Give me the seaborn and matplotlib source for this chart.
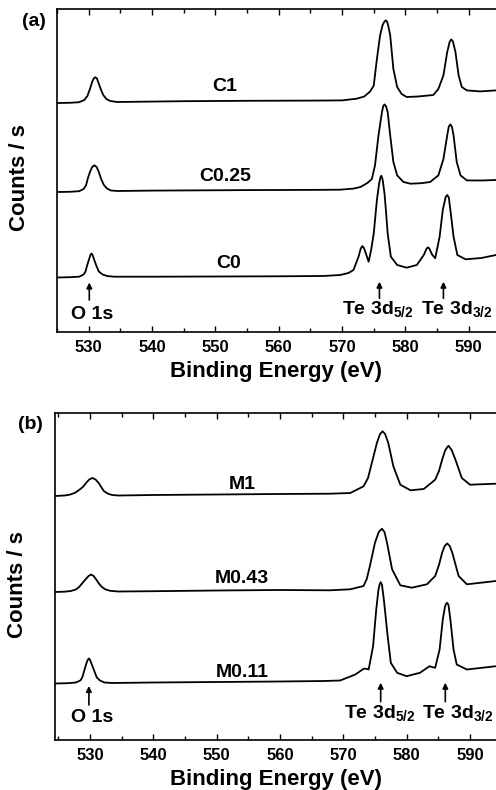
import numpy as np
import pandas as pd
import matplotlib
matplotlib.use("Agg")
import matplotlib.pyplot as plt
from matplotlib.ticker import MultipleLocator
import seaborn as sns

# ----------- spectra (intensity above each trace's own baseline, a.u.) -----------
c1_energy = [525, 527, 528.5, 529.3, 529.8, 530.2, 530.6, 530.85, 531.05, 531.3, 531.5, 531.9, 532.3, 532.8,
             533.4, 534.5, 537, 545, 555, 565, 570, 572.3, 573.5, 574.4, 575.0, 575.5, 576.0, 576.4, 576.7,
             576.9, 577.1, 577.3, 577.6, 578.1, 578.7, 579.4, 580.2, 582, 584.4, 585.2, 586.0, 586.6, 587.0,
             587.25, 587.5, 587.9, 588.4, 588.9, 589.7, 591.8, 594.3]
c1_counts = [0, 0.2, 0.8, 3, 7, 14, 22, 25, 25.7, 24.5, 21, 14, 8, 4,
             2, 1, 1.2, 1.8, 2.2, 2.4, 2.6, 4.3, 6.5, 11.3, 17.3, 44, 67.6, 78, 81.5,
             82.6, 81.5, 77, 67.6, 34, 16, 9, 6, 6.5, 8, 14, 27.6, 51, 61.5,
             63.6, 61.5, 51, 27.6, 16, 12.6, 11.6, 12.6]

c025_energy = [525, 527, 528.5, 529.2, 529.6, 529.85, 530.2, 530.55, 530.9, 531.25, 531.6, 531.95, 532.4, 532.9,
               533.5, 534.5, 540, 546, 555, 565, 569.7, 571.8, 572.9, 574.0, 574.7, 575.2, 575.75, 576.3, 576.5,
               576.7, 576.95, 577.2, 577.6, 578.1, 578.7, 579.7, 580.8, 582.5, 583.9, 585.2, 586.0, 586.6, 586.85,
               587.1, 587.35, 587.6, 588.1, 588.7, 589.7, 592, 594.3]
c025_counts = [0, 0.2, 0.8, 3, 7, 13.3, 20, 25, 26.7, 25, 20, 13.3, 7, 3.5,
               1.5, 1, 1.4, 1.6, 1.9, 2.1, 2.3, 3.4, 5, 9, 13, 26.6, 56.6, 80, 86,
               87.6, 85.5, 80, 56.6, 30, 16.6, 10, 8.3, 8.8, 10, 16.6, 33, 56.6, 65.5,
               67.6, 65, 56.6, 30, 16.6, 11.6, 11.5, 12]

c0_energy = [525, 527, 528.5, 529.2, 529.5, 529.75, 530.1, 530.3, 530.45, 530.6, 530.8, 531.2, 531.6, 532.2,
             532.9, 534, 540, 550, 560, 567, 569.7, 571.0, 571.8, 572.6, 572.95, 573.2, 573.45, 573.7, 574.2,
             574.6, 575.0, 575.5, 575.85, 576.05, 576.2, 576.4, 576.7, 576.95, 577.2, 577.7, 578.7, 580.2, 581.8,
             582.9, 583.35, 583.6, 583.85, 584.2, 584.7, 585.4, 585.9, 586.35, 586.6, 586.85, 587.1, 587.6, 588.2,
             589.5, 592, 594.3]
c0_counts = [0, 0.3, 0.8, 3, 6, 12, 19, 22.8, 24, 22.8, 19, 12, 6, 3,
             1.5, 0.8, 0.8, 1, 1.2, 1.5, 2.5, 4.5, 7.5, 20.8, 29, 31.5, 29.5, 25, 15.8,
             28, 44, 77.5, 94, 100, 101.8, 98, 84, 65, 44, 20.8, 12.5, 9.8, 12.5,
             22.5, 29, 30.2, 28, 23, 19.2, 40.8, 67.5, 80.5, 82.5, 80, 67.5, 40.8, 22.5,
             18.2, 19.5, 22.5]

m1_energy = [524.5, 526.0, 526.8, 527.6, 528.3, 528.9, 529.4, 529.9, 530.4, 530.9, 531.4, 531.8, 532.2, 532.8,
             533.5, 534.5, 540, 550, 560, 567.9, 571.1, 573.2, 573.9, 574.5, 575.3, 575.8, 576.2, 576.6, 577.1,
             577.9, 579.0, 580.6, 582.7, 584.5, 585.1, 585.6, 586.1, 586.6, 587.1, 587.7, 588.7, 590.0, 594.1]
m1_counts = [0, 0.5, 1.3, 3, 6, 9, 13, 16.5, 18, 16.5, 13, 9, 5, 2.5,
             1, 0.5, 1, 1.5, 2, 2.3, 3, 9.7, 18, 33, 53, 62, 64.7, 62, 53,
             29.7, 11.3, 5.7, 7, 16.3, 25, 36.3, 46, 50.3, 46, 36.3, 18, 11.3, 12.3]

m043_energy = [524.5, 526.0, 527.0, 527.8, 528.3, 528.8, 529.3, 529.8, 530.2, 530.6, 531.0, 531.4, 531.9, 532.5,
               533.2, 534.5, 540, 550, 560, 567.9, 571.1, 573.2, 573.7, 574.2, 575.0, 575.6, 576.1, 576.5, 576.9,
               577.7, 579.0, 580.8, 583.2, 584.5, 585.1, 585.6, 586.0, 586.4, 586.8, 587.2, 588.2, 589.5, 594.1]
m043_counts = [0, 0.3, 1, 2.5, 5, 8.7, 12.5, 16, 17.5, 16, 12.5, 8.7, 5, 2.5,
               1.2, 0.5, 0.8, 1.5, 2, 1.7, 2.7, 6, 13, 26, 49.3, 60, 63.3, 60, 49.3,
               22.7, 6.7, 4.3, 7.7, 16, 27, 39.3, 46, 48.6, 46, 39.3, 16, 7.7, 11]

m011_energy = [524.5, 526.5, 527.8, 528.5, 528.8, 529.1, 529.45, 529.7, 529.85, 530.0, 530.25, 530.7, 531.1, 531.6,
               532.3, 533.5, 540, 550, 560, 567, 569.5, 571.9, 573.2, 573.6, 574.0, 574.7, 575.2, 575.55, 575.75,
               575.9, 576.1, 576.4, 577.0, 577.5, 578.5, 580.0, 582.1, 583.6, 584.0, 584.5, 585.2, 585.7, 586.05,
               586.25, 586.4, 586.6, 586.9, 587.4, 587.9, 589.5, 594.1]
m011_counts = [0, 0.3, 1, 3, 6, 12.5, 20, 24, 25, 24, 20, 12.5, 6, 3,
               1, 0.5, 1, 1.5, 2, 2.5, 3, 9, 14.7, 14.8, 14, 37.3, 74, 94, 99.5,
               101.3, 99, 84, 47.3, 20.7, 10.7, 7.3, 10.7, 17.3, 16.5, 15.7, 34, 64, 77,
               80, 80.7, 78.5, 64, 34, 19, 14, 17.3]

# stacking offsets of each trace
samples_a = ["C1", "C0.25", "C0"]
offsets_a = [229, 140, 54.5]
samples_b = ["M1", "M0.43", "M0.11"]
offsets_b = [244, 148, 56.5]

# label anchor points (energy, height) for each trace name
labels_a_pos = [(551.5, 241.3), (551.5, 151), (552.1, 63.7)]
labels_b_pos = [(554.0, 251), (554.0, 156.7), (554.0, 63.3)]


def stack(names, energies, counts, offsets):
    frames = []
    for name, e, c, off in zip(names, energies, counts, offsets):
        frames.append(pd.DataFrame({"energy": e, "counts": np.array(c) + off, "sample": name}))
    return pd.concat(frames, ignore_index=True)


df_a = stack(samples_a, [c1_energy, c025_energy, c0_energy], [c1_counts, c025_counts, c0_counts], offsets_a)
df_b = stack(samples_b, [m1_energy, m043_energy, m011_energy], [m1_counts, m043_counts, m011_counts], offsets_b)

sns.set_style("white")
plt.rcParams["font.family"] = ["Liberation Sans", "DejaVu Sans"]
plt.rcParams["font.weight"] = "bold"
plt.rcParams["text.color"] = "black"
plt.rcParams["axes.labelcolor"] = "black"
plt.rcParams["xtick.color"] = "black"
plt.rcParams["xtick.labelcolor"] = "black"
plt.rcParams["mathtext.fontset"] = "custom"
plt.rcParams["mathtext.bf"] = "Liberation Sans:bold"
plt.rcParams["mathtext.rm"] = "Liberation Sans:bold"

fig = plt.figure(figsize=(4.96, 7.90), dpi=100)
W, H = 496, 790
ax_a = fig.add_axes([57 / W, 1 - 332 / H, (W - 57) / W, 323 / H])
ax_b = fig.add_axes([55 / W, 1 - 740 / H, (W - 55) / W, 327 / H])


def style_axis(ax, df, names, label_pos, xlim, ylim, peaks):
    sns.lineplot(data=df, x="energy", y="counts", hue="sample", units="sample", estimator=None,
                 sort=False, palette=["black"] * 3, legend=False, lw=1.3, ax=ax)
    ax.set_xlim(*xlim)
    ax.set_ylim(*ylim)
    ax.set_yticks([])
    ax.xaxis.set_major_locator(MultipleLocator(10))
    ax.xaxis.set_minor_locator(MultipleLocator(5))
    ax.tick_params(axis="x", which="both", direction="in", top=True, bottom=True, color="black",
                   labelcolor="black", width=1.0, labelsize=12, pad=6)
    ax.tick_params(axis="x", which="major", length=4.5)
    ax.tick_params(axis="x", which="minor", length=3)
    for lab in ax.get_xticklabels():
        lab.set_fontweight("bold")
    for side in ["left", "top", "bottom"]:
        ax.spines[side].set_color("black")
        ax.spines[side].set_linewidth(1.2)
    ax.spines["right"].set_visible(False)
    ax.set_xlabel("Binding Energy (eV)", fontsize=16, fontweight="bold", labelpad=4, color="black")
    ax.set_ylabel("Counts / s", fontsize=16, fontweight="bold", color="black")
    for name, (ex, ey) in zip(names, label_pos):
        ax.text(ex, ey, name, ha="center", va="baseline", fontsize=14, fontweight="bold", color="black")
    for text, tx, ty, arrow_x, y0, y1 in peaks:
        ax.text(tx, ty, text, ha="center", va="baseline", fontsize=14, fontweight="bold", color="black")
        ax.annotate("", xy=(arrow_x, y1), xytext=(arrow_x, y0),
                    arrowprops=dict(arrowstyle="-|>", color="black", lw=1.2, mutation_scale=8,
                                    shrinkA=0, shrinkB=0))


peaks_a = [("O 1s", 530.6, 12.7, 530.1, 32, 49.5),
           (r"Te 3d$_\mathbf{5/2}$", 575.7, 17, 575.9, 33.7, 50.3),
           (r"Te 3d$_\mathbf{3/2}$", 588.1, 17, 586.0, 33.7, 50.3)]
peaks_b = [("O 1s", 530.4, 18.3, 529.85, 35, 54),
           (r"Te 3d$_\mathbf{5/2}$", 575.8, 21.7, 575.9, 38.3, 57.3),
           (r"Te 3d$_\mathbf{3/2}$", 588.1, 21.7, 586.1, 38.3, 57.3)]

style_axis(ax_a, df_a, samples_a, labels_a_pos, (525, 594.3), (0, 323), peaks_a)
style_axis(ax_b, df_b, samples_b, labels_b_pos, (524.5, 594.1), (0, 327), peaks_b)

ax_a.yaxis.set_label_coords(-0.062, 0.478)
ax_b.yaxis.set_label_coords(-0.062, 0.474)

fig.text(34 / W, 1 - 21.7 / H, "(a)", ha="center", va="center", fontsize=14, fontweight="bold")
fig.text(30.7 / W, 1 - 424.2 / H, "(b)", ha="center", va="center", fontsize=14, fontweight="bold")

fig.savefig("out.png", dpi=100)
